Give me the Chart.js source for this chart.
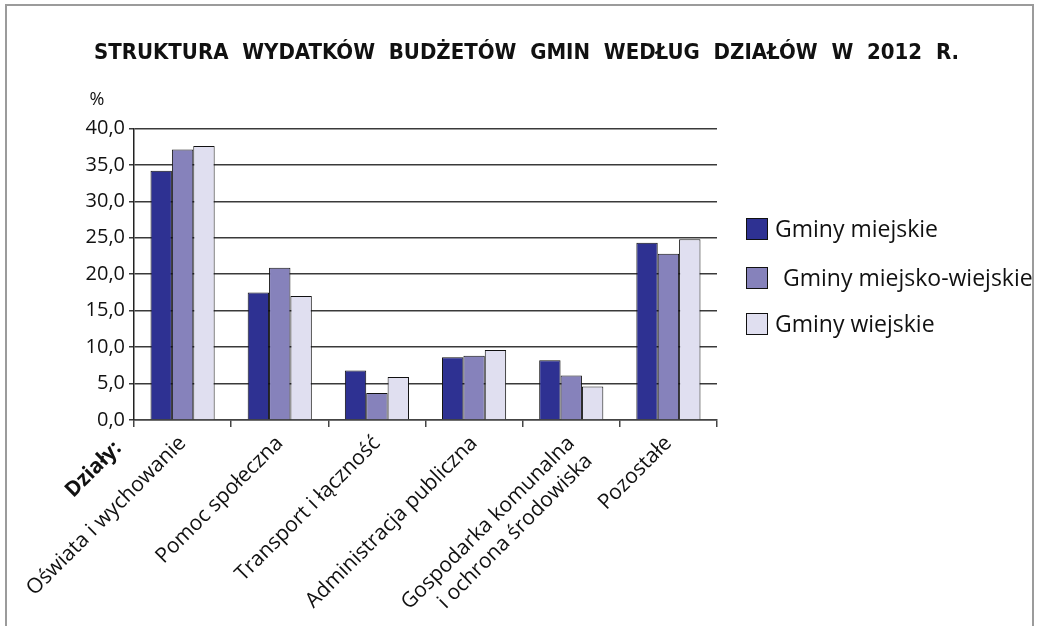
<!DOCTYPE html>
<html lang="pl">
<head>
    <meta charset="UTF-8">
    <title>Struktura wydatków budżetów gmin</title>
    <script src="https://cdn.jsdelivr.net/npm/chart.js@4.4.1/dist/chart.umd.min.js"></script>
    <style>
        html, body { margin: 0; padding: 0; background: #fff; }
        .frame {
            position: absolute; left: 5px; top: 4px; width: 1029px; height: 640px;
            border: 2px solid #9b9b9b; box-sizing: border-box;
        }
        .wrap { position: absolute; left: 0; top: 0; width: 1037px; height: 626px; }
    </style>
</head>
<body>
    <div class="frame"></div>
    <div class="wrap"><canvas id="chart" width="1037" height="626"></canvas></div>

    <script>
        // data
        const categories = [
            'Oświata i wychowanie',
            'Pomoc społeczna',
            'Transport i łączność',
            'Administracja publiczna',
            ['Gospodarka komunalna', 'i ochrona środowiska'],
            'Pozostałe'
        ];
        const seriesNames = ['Gminy miejskie', 'Gminy miejsko-wiejskie', 'Gminy wiejskie'];
        const miejskie = [34.2, 17.5, 6.8, 8.6, 8.2, 24.3];
        const miejskoWiejskie = [37.1, 20.9, 3.7, 8.8, 6.1, 22.8];
        const wiejskie = [37.6, 17.0, 5.9, 9.6, 4.6, 24.8];
        const colors = ['#2e3192', '#8682bb', '#e0dff0'];

        const font = "'Open Sans', 'Noto Sans', sans-serif";

        // "%" above the axis, bold "Działy:" and the legend on the right
        const extraText = {
            id: 'extraText',
            afterDraw(chart) {
                const c = chart.ctx;
                const a = chart.chartArea;
                c.save();
                c.fillStyle = '#111';
                c.font = '18px ' + font;
                c.textAlign = 'center';
                c.textBaseline = 'middle';
                c.fillText('%', a.left - 37, a.top - 29);

                // legend
                const lx = a.right + 29;
                const ly = [229, 278, 324];
                c.textAlign = 'left';
                c.font = '23px ' + font;
                chart.data.datasets.forEach((d, i) => {
                    const y = ly[i];
                    c.fillStyle = d.backgroundColor;
                    c.fillRect(lx, y - 11, 22, 22);
                    c.strokeStyle = '#111';
                    c.lineWidth = 1;
                    c.strokeRect(lx + 0.5, y - 10.5, 21, 21);
                    c.fillStyle = '#111';
                    c.fillText(d.label, lx + (i === 1 ? 37 : 29), y + 1);
                });

                c.translate(a.left - 16, a.bottom + 25);
                c.rotate(-Math.PI / 4);
                c.font = 'bold 21px ' + font;
                c.textAlign = 'right';
                c.fillText('Działy:', 0, 0);
                c.restore();
            }
        };

        const ds = (i, data) => ({
            label: seriesNames[i],
            data: data,
            backgroundColor: colors[i],
            borderColor: '#111',
            borderWidth: 1
        });

        new Chart(document.getElementById('chart'), {
            type: 'bar',
            data: {
                labels: categories,
                datasets: [ds(0, miejskie), ds(1, miejskoWiejskie), ds(2, wiejskie)]
            },
            options: {
                responsive: false,
                animation: false,
                layout: { padding: { left: 16, right: 0, top: 0, bottom: 0 } },
                datasets: { bar: { categoryPercentage: 0.66, barPercentage: 1 } },
                scales: {
                    x: {
                        afterFit: s => { s.height = 206; },
                        grid: { drawOnChartArea: false, drawTicks: true, tickLength: 7, color: '#444', lineWidth: 1.5 },
                        border: { color: '#444', width: 1.5 },
                        ticks: {
                            color: '#111', minRotation: 45, maxRotation: 45, padding: 4,
                            font: { family: font, size: 21 }
                        }
                    },
                    y: {
                        min: 0, max: 40,
                        afterFit: s => { s.width = 118; },
                        grid: { color: '#3a3a3a', lineWidth: 1.5, tickLength: 5 },
                        border: { color: '#222', width: 1.5 },
                        ticks: {
                            stepSize: 5, color: '#111', padding: 4,
                            font: { family: font, size: 20 },
                            callback: v => v.toFixed(1).replace('.', ',')
                        }
                    },
                    // empty axis that keeps room for the legend
                    yRight: {
                        position: 'right',
                        afterFit: s => { s.width = 320; },
                        grid: { display: false },
                        border: { display: false },
                        ticks: { display: false }
                    }
                },
                plugins: {
                    title: {
                        display: true,
                        text: 'STRUKTURA  WYDATKÓW  BUDŻETÓW  GMIN  WEDŁUG  DZIAŁÓW  W  2012  R.',
                        color: '#111',
                        font: { family: "'Liberation Sans Narrow', 'DejaVu Sans Condensed', sans-serif", size: 22, weight: 'bold' },
                        padding: { top: 40, bottom: 62 }
                    },
                    legend: { display: false },
                    tooltip: { enabled: false }
                }
            },
            plugins: [extraText]
        });
    </script>
</body>
</html>
